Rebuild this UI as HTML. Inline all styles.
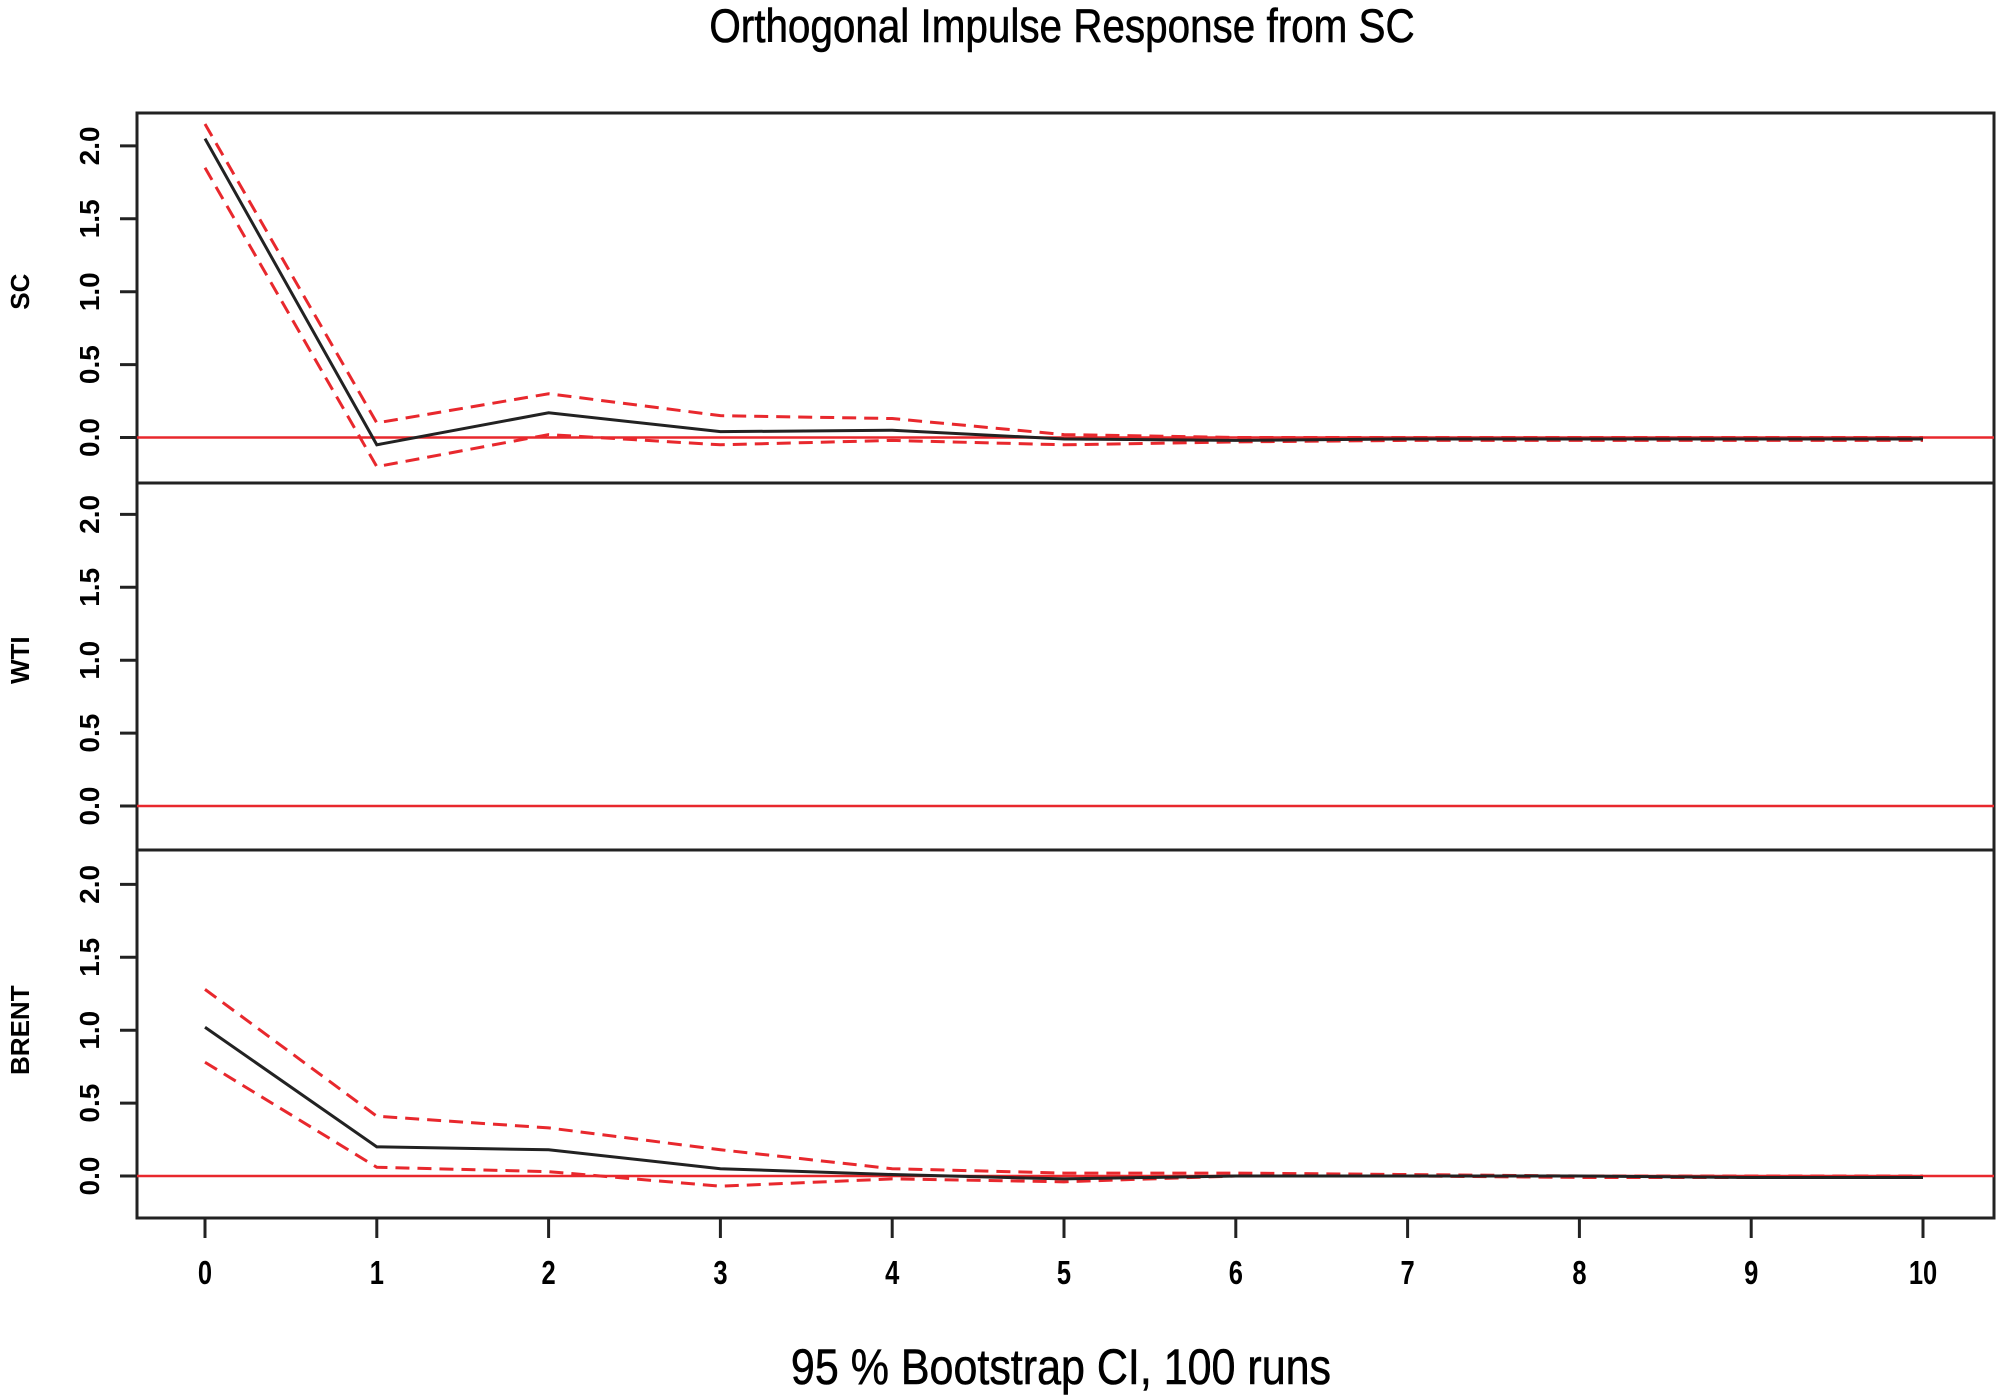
<!DOCTYPE html>
<html><head><meta charset="utf-8"><style>
html,body{margin:0;padding:0;background:#fff;}
svg{display:block;}
</style></head><body>
<svg id="chart" width="2000" height="1395" xmlns="http://www.w3.org/2000/svg" font-family="Liberation Sans, sans-serif">
<text x="1062" y="42" text-anchor="middle" font-size="47" stroke="#000" stroke-width="0.6" transform="translate(1062 0) scale(0.86 1) translate(-1062 0)">Orthogonal Impulse Response from SC</text>
<text x="1061" y="1384" text-anchor="middle" font-size="50" stroke="#000" stroke-width="0.6" transform="translate(1061 0) scale(0.86 1) translate(-1061 0)">95 % Bootstrap CI,  100 runs</text>
<g id="plots"></g>
</svg>
<script>
const steps = [0,1,2,3,4,5,6,7,8,9,10];
const yTicks = [0, 0.5, 1.0, 1.5, 2.0];
const yTickLabels = ["0.0","0.5","1.0","1.5","2.0"];
const panelNames = ["SC","WTI","BRENT"];
const scIrf = [2.05,-0.05,0.17,0.04,0.05,-0.01,-0.02,-0.01,-0.01,-0.01,-0.01];
const scUpper = [2.15,0.10,0.30,0.15,0.13,0.02,0.00,0.00,0.00,0.00,0.00];
const scLower = [1.85,-0.20,0.02,-0.05,-0.02,-0.05,-0.03,-0.02,-0.02,-0.02,-0.02];
const wtiIrf = [];
const wtiUpper = [];
const wtiLower = [];
const brentIrf = [1.02,0.20,0.18,0.05,0.01,-0.02,0.00,0.00,0.00,-0.01,-0.01];
const brentUpper = [1.28,0.41,0.33,0.18,0.05,0.02,0.02,0.01,0.00,0.00,0.00];
const brentLower = [0.78,0.06,0.03,-0.07,-0.02,-0.04,0.00,0.00,-0.01,-0.01,-0.01];

const NS = "http://www.w3.org/2000/svg";
const g = document.getElementById("plots");
const left = 137, right = 1994;
const panels = [
  {top:113, bottom:483, zero:437.5, irf:scIrf, up:scUpper, lo:scLower},
  {top:483, bottom:850, zero:806, irf:wtiIrf, up:wtiUpper, lo:wtiLower},
  {top:850, bottom:1218, zero:1176, irf:brentIrf, up:brentUpper, lo:brentLower}
];
const unit = 145.8;
const xS = v => 205 + v * 171.8;
function mk(tag, attrs){ const e = document.createElementNS(NS, tag); for (const k in attrs) e.setAttribute(k, attrs[k]); return e; }

panels.forEach((p, i) => {
  const yS = v => p.zero - v * unit;
  const frame = mk("rect", {x:left, y:p.top, width:right-left, height:p.bottom-p.top, fill:"none", stroke:"#222", "stroke-width":3});
  
  
  g.appendChild(frame);
  const zl = mk("line", {x1:left, x2:right, y1:yS(0), y2:yS(0), stroke:"#e8282d", "stroke-width":2.5});
  
  
  g.appendChild(zl);
  yTicks.forEach((t, j) => {
    const tk = mk("line", {x1:left-17, x2:left, y1:yS(t), y2:yS(t), stroke:"#222", "stroke-width":3});
    
    
    g.appendChild(tk);
    const tx = mk("text", {x:0, y:0, "text-anchor":"middle", "font-size":28, "font-weight":"bold", transform:`translate(99 ${yS(t)}) rotate(-90)`});
    tx.textContent = yTickLabels[j];
    
    
    g.appendChild(tx);
  });
  const nm = mk("text", {x:0, y:0, "text-anchor":"middle", "font-size":26, "font-weight":"bold", transform:`translate(29 ${yS(1.0)}) rotate(-90)`});
  nm.textContent = panelNames[i];
  
  
  g.appendChild(nm);
  const line = (arr, color, dash, name) => {
    if (!arr.length) return;
    const pts = arr.map((v, k) => xS(steps[k]) + "," + yS(v)).join(" ");
    const pl = mk("polyline", {points:pts, fill:"none", stroke:color, "stroke-width":3});
    if (dash) pl.setAttribute("stroke-dasharray", "14 8");
    
    
    g.appendChild(pl);
  };
  line(p.up, "#e8282d", true, "upper-ci-line");
  line(p.lo, "#e8282d", true, "lower-ci-line");
  line(p.irf, "#222", false, "irf-line");
});

steps.forEach(s => {
  const tk = mk("line", {x1:xS(s), x2:xS(s), y1:1218, y2:1238, stroke:"#222", "stroke-width":3});
  
  
  g.appendChild(tk);
  const tx = mk("text", {x:0, y:0, "text-anchor":"middle", "font-size":30, "font-weight":"bold", transform:`translate(${xS(s)} 1284) scale(0.85 1.1)`});
  tx.textContent = String(s);
  
  
  g.appendChild(tx);
});
</script>
</body></html>
